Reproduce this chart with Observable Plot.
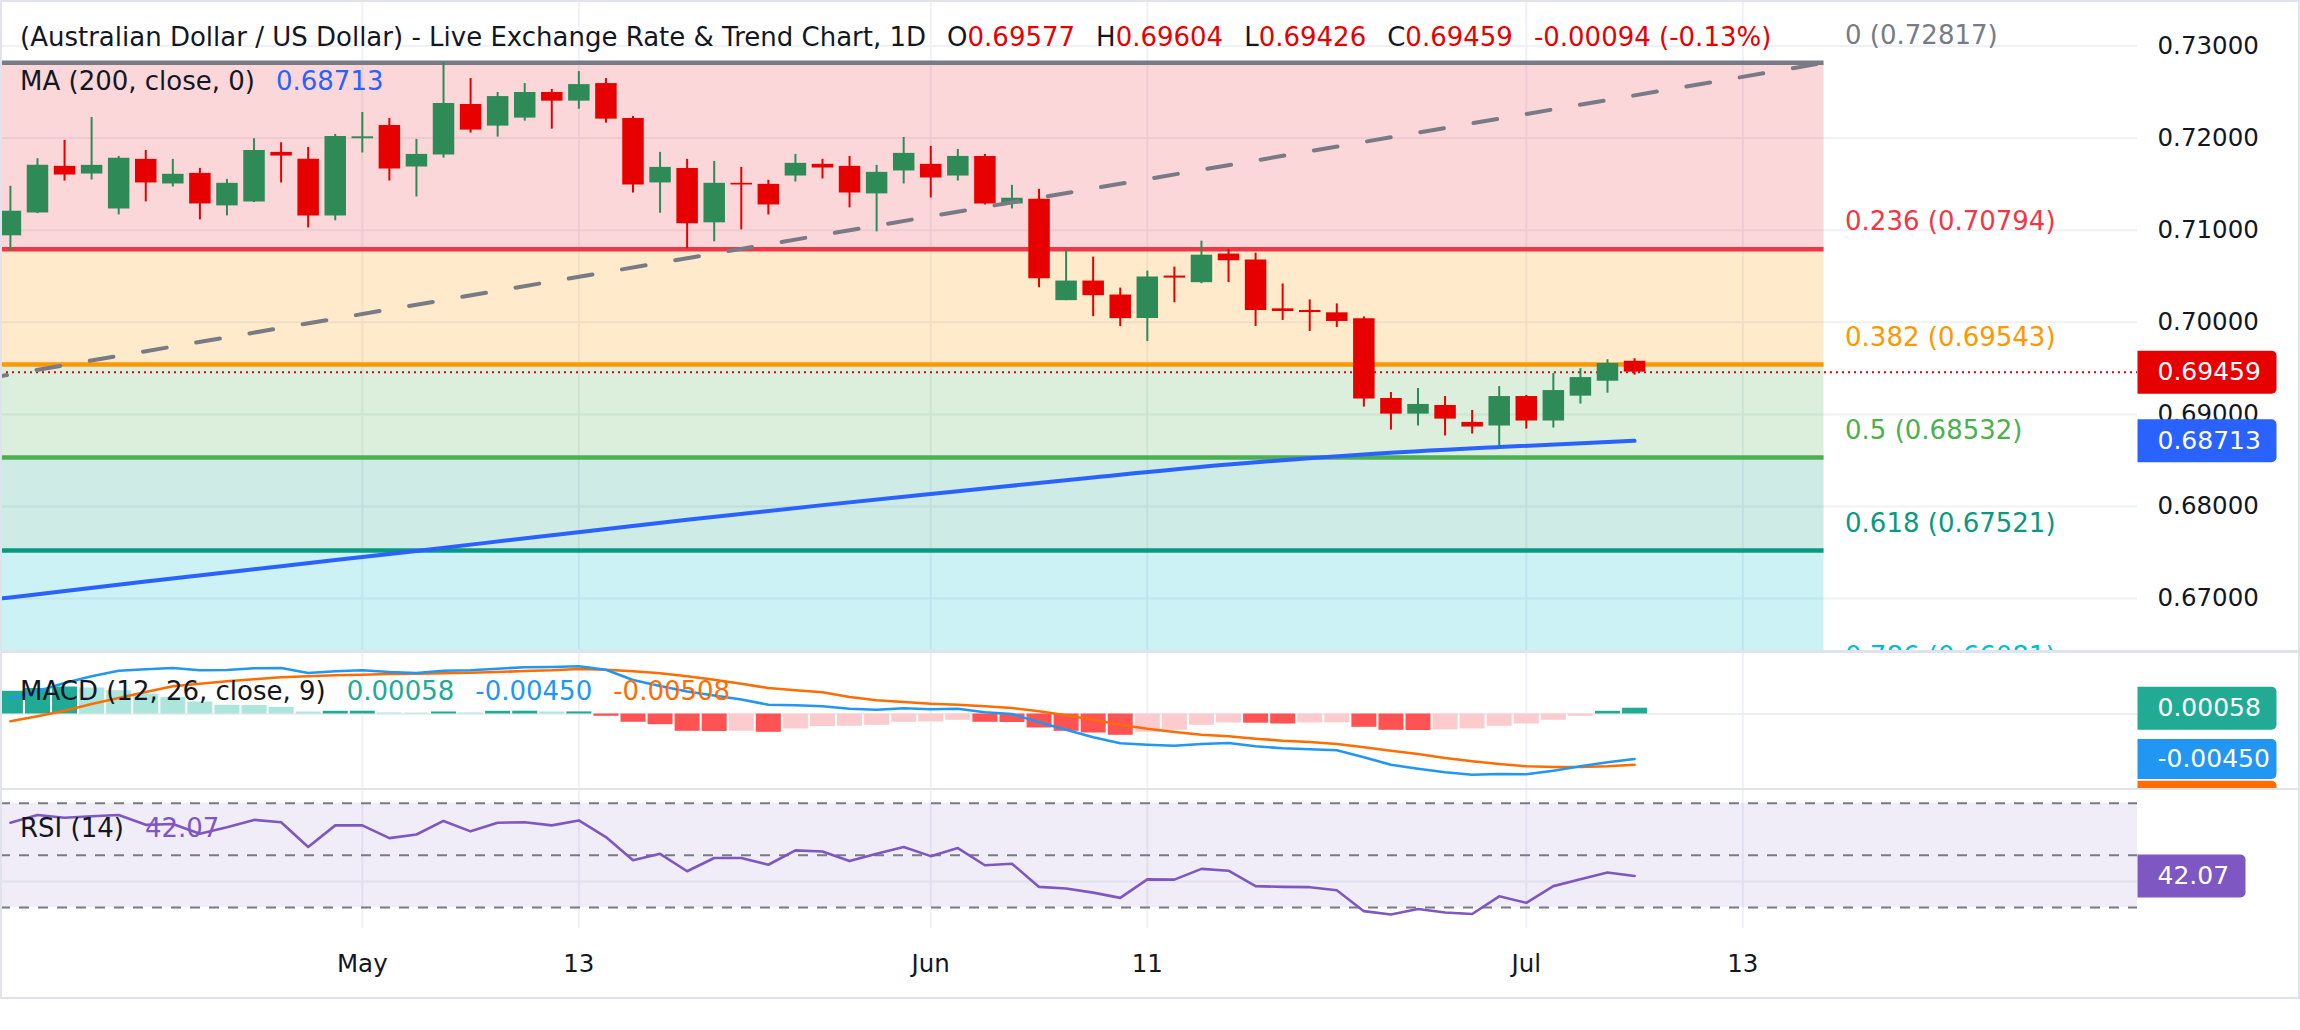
<!DOCTYPE html>
<html>
<head>
<meta charset="utf-8">
<title>AUD/USD daily chart</title>
<script src="https://cdn.jsdelivr.net/npm/d3@7"></script>
<script src="https://cdn.jsdelivr.net/npm/@observablehq/plot@0.6"></script>
<style>
  html, body { margin: 0; padding: 0; background: #fff; }
  body { width: 2300px; height: 1030px; position: relative; overflow: hidden; font-family: "DejaVu Sans", sans-serif; }
  .pane { position: absolute; left: 0; }
  .pane svg { display: block; overflow: hidden; }
  .sep { position: absolute; left: 0; width: 2300px; height: 2.5px; background: #e0e3eb; }
  .frame { position: absolute; left: 0; top: 0; width: 2300px; height: 999px; box-sizing: border-box; border: 2px solid #e0e3eb; pointer-events: none; }
  .legend { position: absolute; left: 20px; height: 26px; font: 26px/26px "DejaVu Sans", sans-serif; color: #131722; white-space: nowrap; }
  .legend > span { margin-left: 21px; }
  .legend > span:first-child { margin-left: 0; }
</style>
</head>
<body>
<div id="price" class="pane" style="top:0"></div>
<div class="sep" style="top:650px"></div>
<div id="macd" class="pane" style="top:652.5px"></div>
<div class="sep" style="top:787.5px"></div>
<div id="rsi" class="pane" style="top:790px"></div>
<div class="frame"></div>
<div id="legend-title" class="legend" style="top:24px"></div>
<div id="legend-ma" class="legend" style="top:68px"></div>
<div id="legend-macd" class="legend" style="top:677.5px"></div>
<div id="legend-rsi" class="legend" style="top:814.5px"></div>

<script>
// ---- Daily AUD/USD candles (bar index 0 = first visible session) ----
const open = [0.70939,0.71188,0.71693,0.71610,0.71231,0.71769,0.71502,0.71617,0.71264,0.71307,
              0.71845,0.71769,0.71155,0.71993,0.72137,0.71686,0.71816,0.72365,0.72130,0.72217,
              0.72495,0.72401,0.72592,0.72213,0.71513,0.71671,0.71080,0.71509,0.71498,0.71588,
              0.71715,0.71693,0.71394,0.71643,0.71715,0.71588,0.71801,0.71285,0.71336,0.70235,
              0.70448,0.70296,0.70040,0.70502,0.70430,0.70741,0.70676,0.70146,0.70128,0.70103,
              0.70038,0.69173,0.69003,0.69097,0.68913,0.68874,0.69194,0.68928,0.69198,0.69360,0.69577];
const high = [0.71477,0.71776,0.71975,0.72224,0.71801,0.71866,0.71769,0.71671,0.71552,0.71993,
              0.71949,0.71899,0.72040,0.72278,0.72213,0.71986,0.72817,0.72646,0.72495,0.72592,
              0.72527,0.72722,0.72646,0.72235,0.71845,0.71769,0.71747,0.71682,0.71542,0.71823,
              0.71769,0.71801,0.71704,0.72007,0.71910,0.71877,0.71823,0.71487,0.71444,0.70783,
              0.70708,0.70372,0.70556,0.70599,0.70881,0.70791,0.70751,0.70416,0.70243,0.70200,
              0.70059,0.69238,0.69281,0.69194,0.69043,0.69302,0.69205,0.69443,0.69497,0.69594,0.69604];
const low  = [0.70773,0.71180,0.71534,0.71545,0.71166,0.71307,0.71469,0.71112,0.71155,0.71300,
              0.71513,0.71025,0.71101,0.71838,0.71534,0.71361,0.71783,0.72054,0.72011,0.72184,
              0.72097,0.72314,0.72162,0.71404,0.71184,0.70798,0.70874,0.71004,0.71166,0.71523,
              0.71556,0.71242,0.70982,0.71502,0.71350,0.71534,0.71274,0.71231,0.70375,0.70235,
              0.70061,0.69953,0.69791,0.70213,0.70419,0.70431,0.69955,0.70020,0.69901,0.69944,
              0.69079,0.68830,0.68874,0.68766,0.68787,0.68657,0.68841,0.68852,0.69112,0.69230,0.69426];
const close = [0.71206,0.71704,0.71599,0.71704,0.71780,0.71513,0.71607,0.71285,0.71509,0.71866,
               0.71805,0.71155,0.72018,0.72014,0.71664,0.71823,0.72375,0.72087,0.72451,0.72495,
               0.72401,0.72581,0.72206,0.71491,0.71682,0.71069,0.71509,0.71491,0.71274,0.71726,
               0.71675,0.71404,0.71628,0.71834,0.71567,0.71801,0.71285,0.71347,0.70473,0.70448,
               0.70289,0.70040,0.70491,0.70480,0.70729,0.70668,0.70128,0.70117,0.70106,0.70009,
               0.69166,0.69003,0.69108,0.68949,0.68863,0.69194,0.68928,0.69259,0.69400,0.69553,0.69459];
const headerChange = "-0.00094 (-0.13%)";

// ---- 200-day moving average, sampled along the bars ----
const maIdx = [-1, 0, 5, 10, 15, 20, 25, 30, 35, 40, 45, 50, 55, 60];
const maVal = [0.66980,0.67013,0.67185,0.67352,0.67518,0.67688,0.67855,0.68015,0.68165,0.68315,0.68455,0.68565,0.68645,0.68713];

// ---- Trend line drawing (dashed) ----
const trendIdx = [-1, 67];
const trendVal = [0.69383, 0.72817];

// ---- Fibonacci retracement drawing ----
const fibRatios = ["0", "0.236", "0.382", "0.5", "0.618", "0.786"];
const fibPrices = [0.72817, 0.70794, 0.69543, 0.68532, 0.67521, 0.66081];
const fibColors = ["#787b86", "#f23645", "#ff9800", "#4caf50", "#089981", "#00bcd4"];
const fibStartIdx = -1;
const fibEndIdx = 67;

// ---- Axis ticks ----
const priceTicks = [0.67, 0.68, 0.69, 0.70, 0.71, 0.72, 0.73];
const xTickIdx = [13, 21, 34, 42, 56, 64];
const xTickLabels = ["May", "13", "Jun", "11", "Jul", "13"];

// ---- MACD (12, 26, close, 9) ----
const macdLine = [0.00153,0.00227,0.00310,0.00377,0.00433,0.00447,0.00460,0.00437,0.00440,0.00457,
                  0.00460,0.00410,0.00427,0.00437,0.00420,0.00410,0.00433,0.00437,0.00453,0.00467,
                  0.00470,0.00477,0.00443,0.00340,0.00280,0.00225,0.00185,0.00145,0.00093,0.00087,
                  0.00077,0.00052,0.00043,0.00057,0.00047,0.00053,0.00017,0.00000,-0.00083,-0.00157,
                  -0.00233,-0.00293,-0.00307,-0.00317,-0.00300,-0.00290,-0.00323,-0.00343,-0.00353,-0.00363,
                  -0.00433,-0.00507,-0.00547,-0.00583,-0.00607,-0.00600,-0.00603,-0.00567,-0.00523,-0.00483,-0.00450];
const signalLine = [-0.00073,-0.00023,0.00033,0.00100,0.00160,0.00220,0.00277,0.00303,0.00327,0.00347,
                    0.00367,0.00377,0.00387,0.00393,0.00400,0.00403,0.00407,0.00413,0.00420,0.00430,
                    0.00437,0.00450,0.00443,0.00427,0.00407,0.00377,0.00343,0.00303,0.00260,0.00237,
                    0.00217,0.00170,0.00137,0.00120,0.00103,0.00093,0.00077,0.00060,0.00027,-0.00013,
                    -0.00057,-0.00107,-0.00147,-0.00180,-0.00207,-0.00223,-0.00247,-0.00267,-0.00280,-0.00300,
                    -0.00333,-0.00367,-0.00400,-0.00440,-0.00473,-0.00500,-0.00523,-0.00530,-0.00530,-0.00523,-0.00508];
const histogram = [0.00227,0.00255,0.00270,0.00260,0.00233,0.00200,0.00167,0.00120,0.00087,0.00085,
                   0.00067,0.00020,0.00027,0.00028,0.00010,0.00009,0.00020,0.00010,0.00027,0.00028,
                   0.00020,0.00021,-0.00023,-0.00083,-0.00107,-0.00173,-0.00175,-0.00172,-0.00183,-0.00150,
                   -0.00126,-0.00123,-0.00113,-0.00083,-0.00080,-0.00063,-0.00083,-0.00085,-0.00140,-0.00173,
                   -0.00190,-0.00213,-0.00183,-0.00163,-0.00113,-0.00090,-0.00092,-0.00100,-0.00090,-0.00088,
                   -0.00133,-0.00163,-0.00165,-0.00160,-0.00150,-0.00123,-0.00100,-0.00063,-0.00023,0.00027,0.00058];

// ---- RSI (14) ----
const rsi = [62.5,65.5,64.4,65.0,65.5,61.7,62.0,58.3,60.8,63.6,
             62.7,53.2,61.5,61.5,56.6,58.0,63.2,59.2,62.5,62.7,
             61.5,63.4,57.0,48.1,50.6,43.9,49.0,49.0,46.4,51.9,
             51.5,47.8,50.6,53.2,49.7,52.8,46.2,46.8,37.9,37.3,
             35.7,33.7,40.8,40.7,44.8,44.1,38.2,37.9,37.8,36.6,
             28.6,27.3,29.4,28.1,27.5,34.3,31.8,38.2,40.8,43.4,42.07];

// ---- Layout / style ----
const W = 2300;
const AXIS_W = 163;                 // right-hand price scale column
const xDomain = [-0.366, 78.58];    // bar index span of the plotting area
const FONT = "'DejaVu Sans', sans-serif";
const GRID = "#eef1f6";
const UP = "#2e8b57", DOWN = "#e60000";
const TEXT = "#131722";
const AXIS_FS = 24.5;

const candles = close.map((c, i) => ({i, open: open[i], high: high[i], low: low[i], close: c}));
const candleColor = d => d.close >= d.open ? UP : DOWN;
const ma = maIdx.map((x, k) => ({x, y: maVal[k]}));
const trend = trendIdx.map((x, k) => ({x, y: trendVal[k]}));
const fibs = fibPrices.map((p, k) => ({price: p, ratio: fibRatios[k], color: fibColors[k]}));
const fibBands = fibPrices.slice(1).map((p, k) => ({top: fibPrices[k], bottom: p, color: fibColors[k + 1]}));
const last = candles[candles.length - 1];
const maLast = maVal[maVal.length - 1];
const bars = histogram.map((v, i) => {
  const prev = i ? histogram[i - 1] : v;
  const color = v >= 0 ? (v >= prev ? "#22ab94" : "#ace5dc") : (v < prev ? "#ff5252" : "#fccbcd");
  return {i, v, color};
});
const macdRows = macdLine.map((v, i) => ({i, macd: v, signal: signalLine[i]}));
const rsiRows = rsi.map((v, i) => ({i, v}));

// Price-scale tag: square on the left, rounded on the right, drawn from the frame edge
function tagShape(w, h, r) {
  return {
    draw(ctx) {
      ctx.moveTo(0, -h / 2);
      ctx.lineTo(w - r, -h / 2);
      ctx.arcTo(w, -h / 2, w, -h / 2 + r, r);
      ctx.lineTo(w, h / 2 - r);
      ctx.arcTo(w, h / 2, w - r, h / 2, r);
      ctx.lineTo(0, h / 2);
      ctx.closePath();
    }
  };
}
function tagBox(value, color, w, h, dy = 0) {
  return Plot.dot([value], {x: xDomain[1], y: d => d, symbol: tagShape(w, h, 5), r: 10, fill: color, stroke: "none", dy});
}
function tagText(value, fmt, dy = 0) {
  return Plot.text([value], {x: xDomain[1], y: d => d, text: fmt, dx: 20, dy, textAnchor: "start", fill: "white", fontSize: 25});
}
const tag = (value, color, w, h, fmt) => [tagBox(value, color, w, h), tagText(value, fmt)];

const baseStyle = {background: "transparent", fontFamily: FONT, fontSize: "25px", overflow: "hidden"};

// ---- Price pane ----
const pricePlot = Plot.plot({
  width: W, height: 650,
  marginTop: 0, marginRight: AXIS_W, marginBottom: 0, marginLeft: 0,
  x: {domain: xDomain, axis: null},
  y: {domain: [0.664365, 0.734940], axis: null},
  color: {type: "identity"},
  style: baseStyle,
  marks: [
    Plot.ruleY(priceTicks, {stroke: GRID, strokeWidth: 2}),
    Plot.ruleX(xTickIdx, {stroke: GRID, strokeWidth: 2}),
    Plot.rect(fibBands, {x1: fibStartIdx, x2: fibEndIdx, y1: "bottom", y2: "top", fill: "color", fillOpacity: 0.2}),
    Plot.ruleY(fibs, {y: "price", x1: fibStartIdx, x2: fibEndIdx, stroke: "color", strokeWidth: 4.5}),
    Plot.line(ma, {x: "x", y: "y", stroke: "#2962ff", strokeWidth: 4, curve: "monotone-x"}),
    Plot.ruleY([last.close], {stroke: DOWN, strokeWidth: 2, strokeDasharray: "2 4"}),
    Plot.ruleX(candles, {x: "i", y1: "low", y2: "high", stroke: candleColor, strokeWidth: 2}),
    Plot.ruleX(candles, {x: "i", y1: "open", y2: "close", stroke: candleColor, strokeWidth: 21.5}),
    Plot.line(trend, {x: "x", y: "y", stroke: "#787b86", strokeWidth: 4, strokeDasharray: "24 30"}),
    Plot.text(fibs, {x: fibEndIdx, y: "price", text: d => `${d.ratio} (${d.price.toFixed(5)})`,
      fill: "color", textAnchor: "start", dx: 21, dy: -27, fontSize: 26}),
    Plot.text(priceTicks, {x: xDomain[1], y: d => d, text: d => d.toFixed(5), dx: 20,
      textAnchor: "start", fill: TEXT, fontSize: AXIS_FS}),
    ...tag(last.close, DOWN, 139, 43, d => d.toFixed(5)),
    ...tag(maLast, "#2962ff", 139, 43, d => d.toFixed(5))
  ]
});
document.getElementById("price").append(pricePlot);

// ---- MACD pane ----
const macdLast = macdLine[macdLine.length - 1];
const signalLast = signalLine[signalLine.length - 1];
const histLast = histogram[histogram.length - 1];
const macdPlot = Plot.plot({
  width: W, height: 135,
  marginTop: 0, marginRight: AXIS_W, marginBottom: 0, marginLeft: 0,
  x: {domain: xDomain, axis: null},
  y: {domain: [-0.00745, 0.00605], axis: null},
  color: {type: "identity"},
  style: baseStyle,
  marks: [
    Plot.ruleX(xTickIdx, {stroke: GRID, strokeWidth: 2}),
    Plot.ruleY([0], {stroke: "#eceef2", strokeWidth: 2}),
    Plot.ruleX(bars, {x: "i", y1: 0, y2: "v", stroke: "color", strokeWidth: 25}),
    Plot.line(macdRows, {x: "i", y: "signal", stroke: "#ff6d00", strokeWidth: 2.6}),
    Plot.line(macdRows, {x: "i", y: "macd", stroke: "#2196f3", strokeWidth: 2.6}),
    ...tag(histLast, "#22ab94", 139, 43, d => d.toFixed(5)),
    ...tag(macdLast, "#2196f3", 139, 40, d => d.toFixed(5)),
    // signal tag is pushed below the MACD tag and runs off the pane bottom
    tagBox(signalLast, "#ff6d00", 139, 40, 36)
  ]
});
document.getElementById("macd").append(macdPlot);

// ---- RSI pane with the date axis underneath ----
const rsiLast = rsi[rsi.length - 1];
const rsiPlot = Plot.plot({
  width: W, height: 207,
  marginTop: 0, marginRight: AXIS_W, marginBottom: 69, marginLeft: 0,
  x: {domain: xDomain, axis: null},
  y: {domain: [21.95, 74.87], axis: null},
  color: {type: "identity"},
  style: baseStyle,
  marks: [
    Plot.ruleX(xTickIdx, {stroke: GRID, strokeWidth: 2}),
    Plot.ruleY([40], {stroke: GRID, strokeWidth: 2}),
    Plot.rect([0], {x1: xDomain[0], x2: xDomain[1], y1: 30, y2: 70, fill: "#7e57c2", fillOpacity: 0.11}),
    Plot.ruleY([70, 50, 30], {stroke: "#787b86", strokeWidth: 2, strokeDasharray: "10 9"}),
    Plot.line(rsiRows, {x: "i", y: "v", stroke: "#7e57c2", strokeWidth: 2.6}),
    ...tag(rsiLast, "#7e57c2", 108, 43, d => d.toFixed(2)),
    Plot.text(xTickIdx, {x: d => d, text: (d, i) => xTickLabels[i], frameAnchor: "bottom", dy: 43,
      fill: TEXT, fontSize: AXIS_FS})
  ]
});
document.getElementById("rsi").append(rsiPlot);

// ---- Legends ----
function legend(id, items) {
  const el = document.getElementById(id);
  for (const [text, color] of items) {
    const s = document.createElement("span");
    if (Array.isArray(text)) {
      s.append(text[0]);
      const v = document.createElement("span");
      v.textContent = text[1];
      v.style.color = color;
      s.append(v);
    } else {
      s.textContent = text;
      if (color) s.style.color = color;
    }
    el.append(s);
  }
}
legend("legend-title", [
  ["(Australian Dollar / US Dollar) - Live Exchange Rate & Trend Chart, 1D"],
  [["O", last.open.toFixed(5)], DOWN],
  [["H", last.high.toFixed(5)], DOWN],
  [["L", last.low.toFixed(5)], DOWN],
  [["C", last.close.toFixed(5)], DOWN],
  [headerChange, DOWN]
]);
legend("legend-ma", [["MA (200, close, 0)"], [maLast.toFixed(5), "#2962ff"]]);
legend("legend-macd", [
  ["MACD (12, 26, close, 9)"],
  [histLast.toFixed(5), "#22ab94"],
  [macdLast.toFixed(5), "#2196f3"],
  [signalLast.toFixed(5), "#ff6d00"]
]);
legend("legend-rsi", [["RSI (14)"], [rsiLast.toFixed(2), "#7e57c2"]]);
</script>
</body>
</html>
